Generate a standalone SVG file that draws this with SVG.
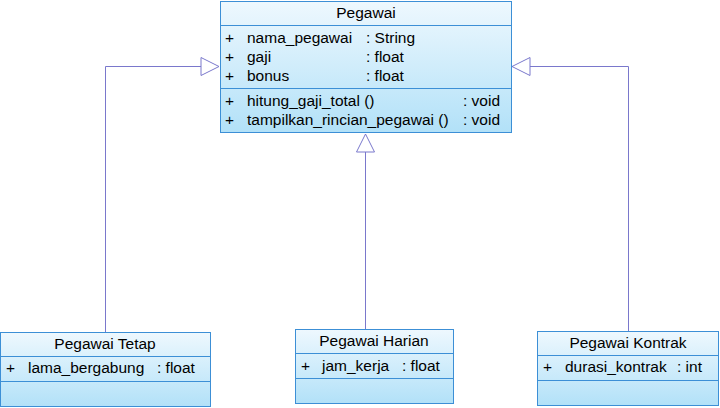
<svg xmlns="http://www.w3.org/2000/svg" width="720" height="408" viewBox="0 0 720 408">
<defs>
<linearGradient id="g" x1="0" y1="0" x2="0" y2="1">
<stop offset="0" stop-color="#eef8fe"/>
<stop offset="1" stop-color="#b2e1f8"/>
</linearGradient>
<marker id="tri" viewBox="0 0 20 20" refX="19" refY="10" markerWidth="20" markerHeight="20" markerUnits="userSpaceOnUse" orient="auto">
<path d="M1,1 L19,10 L1,19 Z" fill="#ffffff" stroke="#7a78cc" stroke-width="1"/>
</marker>
<style>
.box{fill:url(#g);stroke:#3c8fd6;stroke-width:1}
.div{stroke:#3c8fd6;stroke-width:1}
text{font-family:"Liberation Sans",Arial,sans-serif;font-size:15.5px;fill:#000}
.t{text-anchor:middle}
.c{fill:none;stroke:#7a78cc;stroke-width:1}
</style>
</defs>
<rect width="720" height="408" fill="#ffffff"/>
<g id="connectors">
<path class="c" d="M105.5,332 V66.5 H219" marker-end="url(#tri)"/>
<path class="c" d="M628.5,331 V66.5 H512" marker-end="url(#tri)"/>
<path class="c" d="M365.5,329 V134" marker-end="url(#tri)"/>
</g>
<g id="pegawai">
<rect class="box" x="220.5" y="1.5" width="291" height="131"/>
<line class="div" x1="220.5" y1="25.5" x2="511.5" y2="25.5"/>
<line class="div" x1="220.5" y1="88.5" x2="511.5" y2="88.5"/>
<text class="t" x="366" y="18">Pegawai</text>
<text x="225" y="43">+</text><text x="247" y="43">nama_pegawai</text><text x="366" y="43">: String</text>
<text x="225" y="62">+</text><text x="247" y="62">gaji</text><text x="366" y="62">: float</text>
<text x="225" y="81">+</text><text x="247" y="81">bonus</text><text x="366" y="81">: float</text>
<text x="225" y="106">+</text><text x="247" y="106">hitung_gaji_total ()</text><text x="463" y="106">: void</text>
<text x="225" y="125">+</text><text x="247" y="125">tampilkan_rincian_pegawai ()</text><text x="463" y="125">: void</text>
</g>
<g id="pegawai-tetap">
<rect class="box" x="0.5" y="332.5" width="210" height="74"/>
<line class="div" x1="0.5" y1="356.5" x2="210.5" y2="356.5"/>
<line class="div" x1="0.5" y1="381.5" x2="210.5" y2="381.5"/>
<text class="t" x="105" y="349">Pegawai Tetap</text>
<text x="6" y="373">+</text><text x="28" y="373">lama_bergabung</text><text x="157" y="373">: float</text>
</g>
<g id="pegawai-harian">
<rect class="box" x="295.5" y="329.5" width="158" height="74"/>
<line class="div" x1="295.5" y1="353.5" x2="453.5" y2="353.5"/>
<line class="div" x1="295.5" y1="378.5" x2="453.5" y2="378.5"/>
<text class="t" x="374" y="346">Pegawai Harian</text>
<text x="301" y="371">+</text><text x="322" y="371">jam_kerja</text><text x="402" y="371">: float</text>
</g>
<g id="pegawai-kontrak">
<rect class="box" x="537.5" y="331.5" width="181" height="74"/>
<line class="div" x1="537.5" y1="355.5" x2="718.5" y2="355.5"/>
<line class="div" x1="537.5" y1="380.5" x2="718.5" y2="380.5"/>
<text class="t" x="628" y="348">Pegawai Kontrak</text>
<text x="543" y="372">+</text><text x="565" y="372">durasi_kontrak</text><text x="677" y="372">: int</text>
</g>
</svg>
